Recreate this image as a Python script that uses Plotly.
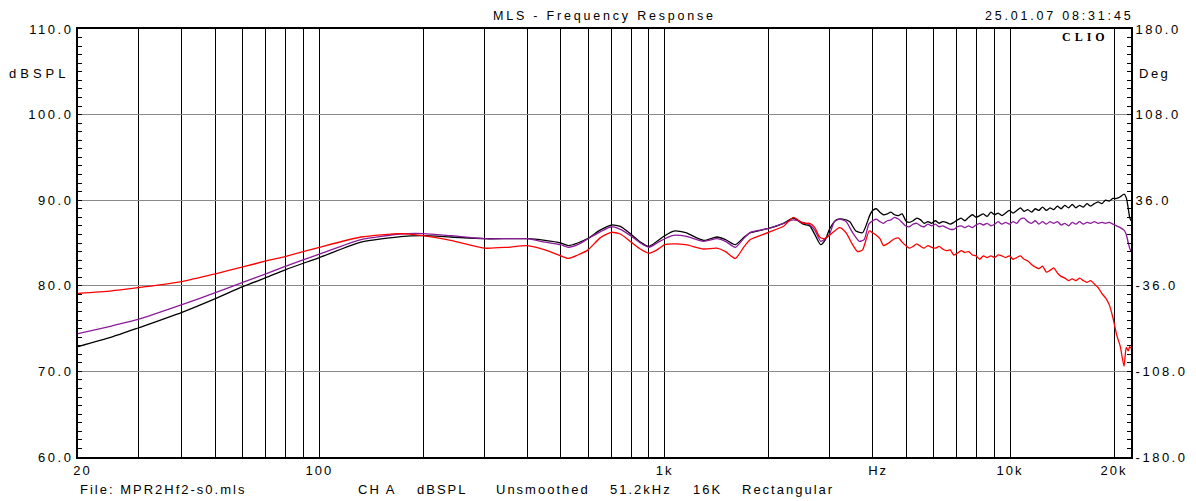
import plotly.graph_objects as go

# ---------------- data ----------------
hf_freq = [4000, 4100, 4200, 4300, 4410, 4520, 4630, 4750, 4870, 4990,
           5110, 5240, 5370, 5510, 5640, 5780, 5930, 6080, 6230, 6380,
           6540, 6710, 6870, 7040, 7220, 7400, 7590, 7780, 7970, 8170,
           8370, 8580, 8800, 9020, 9240, 9470, 9710, 9950, 10200, 10460,
           10720, 10980, 11260, 11540, 11830, 12120, 12420, 12740, 13050, 13380,
           13710, 14060, 14410, 14770, 15140, 15510, 15900, 16300, 16700, 17120,
           17550, 17990, 18440, 18900, 19370, 19850, 20350, 20860, 21380, 21700,
           22000, 22200, 22400]

lf_freq_black = [20, 25, 30, 40, 50, 60, 70, 80, 100, 132, 172, 200, 240, 300, 400, 450,
                 500, 526, 560, 600, 650, 700, 744, 800, 850, 900, 950, 1000, 1061, 1150,
                 1296, 1417, 1500, 1601, 1700, 1770, 2000, 2208, 2358, 2518, 2630, 2720,
                 2830, 2920, 3000, 3140, 3280, 3430, 3580, 3740, 3850, 3920]
lf_spl_black = [72.9, 74.0, 75.1, 76.9, 78.5, 79.9, 80.95, 81.9, 83.3, 85.1, 85.75, 85.85,
                85.7, 85.5, 85.5, 85.3, 85.0, 84.7, 85.0, 85.55, 86.5, 87.1, 86.95, 86.0,
                85.1, 84.6, 85.2, 85.85, 86.4, 86.2, 85.3, 85.7, 85.4, 84.8, 85.7, 86.2,
                86.7, 87.3, 87.9, 87.2, 87.0, 86.0, 84.8, 85.4, 86.6, 87.7, 87.8, 87.5,
                86.4, 86.2, 87.3, 88.2]
hf_spl_black = [88.8, 89.0, 88.6, 88.3, 88.4, 88.6, 88.3, 88.2, 88.4, 87.6,
                87.4, 87.6, 87.9, 87.7, 87.3, 87.5, 87.3, 87.6, 87.3, 87.5,
                87.4, 87.2, 87.4, 87.7, 87.9, 87.6, 88.0, 88.3, 88.0, 88.2,
                88.4, 88.1, 88.6, 88.3, 88.5, 88.2, 88.5, 88.8, 88.5, 88.8,
                89.1, 88.7, 88.9, 88.6, 89.0, 88.8, 89.2, 88.8, 89.1, 88.9,
                89.3, 89.0, 89.4, 89.1, 89.5, 89.1, 89.4, 89.2, 89.6, 89.3,
                89.6, 89.8, 89.6, 90.0, 89.9, 90.2, 90.2, 90.4, 90.7, 90.3,
                89.0, 88.0, 87.6]

lf_freq_purple = [20, 25, 30, 40, 50, 60, 70, 80, 100, 132, 172, 200, 240, 300, 400, 450,
                  500, 526, 560, 600, 650, 700, 744, 800, 850, 900, 950, 1000, 1061, 1150,
                  1296, 1417, 1500, 1601, 1700, 1770, 2000, 2208, 2358, 2518, 2630, 2720,
                  2830, 2920, 3000, 3100, 3210, 3350, 3500, 3660, 3780, 3900]
lf_spl_purple = [74.4, 75.3, 76.1, 77.8, 79.2, 80.4, 81.4, 82.3, 83.7, 85.4, 86.05, 86.1,
                 85.85, 85.5, 85.5, 85.1, 84.8, 84.5, 84.8, 85.5, 86.3, 86.9, 86.6, 85.8,
                 85.0, 84.5, 85.0, 85.5, 85.9, 85.8, 85.2, 85.5, 85.2, 84.5, 85.6, 86.25,
                 86.7, 87.3, 87.7, 87.4, 87.1, 86.5, 85.2, 85.5, 86.0, 87.5, 87.8, 87.5,
                 86.2, 85.2, 85.4, 87.2]
hf_spl_purple = [87.6, 87.8, 87.5, 87.3, 87.6, 87.7, 88.0, 87.8, 87.4, 87.0,
                 86.9, 87.2, 87.3, 87.0, 86.9, 87.2, 87.0, 87.2, 86.9, 87.0,
                 86.8, 86.6, 86.6, 86.9, 87.0, 86.8, 87.0, 86.8, 87.1, 87.3,
                 87.1, 87.3, 87.0, 87.2, 87.5, 87.2, 87.4, 87.2, 87.5, 87.3,
                 87.8, 87.9, 87.5, 87.3, 87.6, 87.2, 87.5, 87.2, 87.5, 87.3,
                 87.5, 87.1, 87.3, 87.0, 87.4, 87.2, 87.5, 87.2, 87.4, 87.3,
                 87.5, 87.3, 87.4, 87.3, 87.4, 87.2, 87.0, 86.8, 86.5, 86.0,
                 85.0, 84.4, 84.0]

lf_freq_red = [20, 25, 30, 40, 50, 60, 70, 80, 100, 132, 172, 200, 240, 300, 350, 400, 450,
               500, 526, 560, 600, 650, 700, 744, 800, 850, 900, 950, 1000, 1061, 1150,
               1296, 1417, 1500, 1601, 1700, 1770, 2000, 2208, 2358, 2518, 2630, 2720,
               2810, 2900, 3020, 3210, 3350, 3500, 3620, 3740, 3910]
lf_spl_red = [79.1, 79.4, 79.8, 80.5, 81.4, 82.2, 82.9, 83.45, 84.5, 85.7, 86.1, 85.85,
              85.3, 84.4, 84.5, 84.7, 84.2, 83.5, 83.2, 83.6, 84.2, 85.6, 86.25, 86.05,
              85.1, 84.3, 83.8, 84.2, 84.8, 84.9, 84.8, 84.3, 84.4, 84.0, 83.2, 84.6,
              85.4, 86.25, 86.95, 88.0, 87.3, 87.3, 86.8, 85.7, 85.5, 86.0, 86.8, 86.2,
              84.8, 84.0, 84.2, 86.4]
hf_spl_red = [86.2, 85.9, 85.5, 84.7, 84.9, 85.2, 85.5, 85.6, 85.1, 84.7,
              84.4, 84.6, 84.9, 84.6, 84.4, 84.7, 84.5, 84.4, 84.6, 84.3,
              84.1, 84.2, 83.6, 83.8, 84.1, 83.9, 84.0, 83.6, 83.5, 83.1,
              83.5, 83.3, 83.5, 83.3, 83.6, 83.5, 83.3, 83.5, 83.1, 83.3,
              83.5, 83.1, 82.9, 82.5, 82.2, 82.0, 82.3, 81.6, 81.8, 82.1,
              81.5, 81.1, 80.9, 80.6, 80.8, 80.6, 80.9, 80.6, 80.4, 80.6,
              80.2, 79.8, 79.1, 78.6, 77.8, 76.3, 74.3, 72.9, 70.6, 72.8,
              72.4, 72.9, 72.7]

grid_freqs = [20, 30, 40, 50, 60, 70, 80, 90, 100, 200, 300, 400, 500, 600, 700, 800, 900,
              1000, 2000, 3000, 4000, 5000, 6000, 7000, 8000, 9000, 10000, 20000]
label_freqs = [20.6, 100, 1000, 4150, 10000, 20000]
label_texts = ["20", "100", "1k", "Hz", "10k", "20k"]

spl_ticks = [60, 70, 80, 90, 100, 110]
spl_labels = ["60.0", "70.0", "80.0", "90.0", "100.0", "110.0"]
deg_ticks = [-180, -108, -36, 36, 108, 180]
deg_labels = ["-180.0", "-108.0", "-36.0", "36.0", "108.0", "180.0"]

freq_black = lf_freq_black + hf_freq
spl_black = lf_spl_black + hf_spl_black
freq_purple = lf_freq_purple + hf_freq
spl_purple = lf_spl_purple + hf_spl_purple
freq_red = lf_freq_red + hf_freq
spl_red = lf_spl_red + hf_spl_red

# ---------------- layout helpers (screen pixel coordinates) ----------------
SCREEN_W, SCREEN_H = 1196, 501
OFF = 8                      # default page body margin
W, H = SCREEN_W - OFF, SCREEN_H - OFF
PL, PR, PT, PB = 78, 1131, 29, 457   # plot area on screen


def px_x(p):
    return (p - PL) / (PR - PL)


def px_y(p):
    return (PB - p) / (PB - PT)


def sp(t, ls=2.5):
    return f'<span style="letter-spacing:{ls}px">{t}</span>'


FONT = "Liberation Sans, Arial, Helvetica, sans-serif"
FS = 13

fig = go.Figure()
for fx, sy, col in [(freq_black, spl_black, "#000000"),
                    (freq_purple, spl_purple, "#8B1A9A"),
                    (freq_red, spl_red, "#FF0000")]:
    fig.add_trace(go.Scatter(x=fx, y=sy, mode="lines",
                             line=dict(color=col, width=1.3, shape="spline", smoothing=0.6),
                             showlegend=False, hoverinfo="skip"))
# dummy trace so the phase axis is drawn
fig.add_trace(go.Scatter(x=[20], y=[0], yaxis="y2", mode="lines",
                         showlegend=False, hoverinfo="skip"))

fig.update_layout(
    width=W, height=H,
    margin=dict(l=PL - OFF, r=SCREEN_W - PR, t=PT - OFF, b=SCREEN_H - PB, autoexpand=False),
    paper_bgcolor="white", plot_bgcolor="white",
    font=dict(family=FONT, size=FS, color="black"),
    xaxis=dict(type="log", range=[1.30103, 4.35025],
               tickmode="array", tickvals=label_freqs,
               ticktext=[sp(t, 2) for t in label_texts],
               tickangle=0, automargin=False,
               showgrid=False,
               showline=True, linecolor="black", linewidth=2, mirror=True,
               ticks="", zeroline=False, tickfont=dict(size=FS),
               minor=dict(tickmode="array", tickvals=grid_freqs, showgrid=True,
                          gridcolor="black", gridwidth=1, ticks="")),
    yaxis=dict(range=[60, 110], tickmode="array", tickvals=spl_ticks,
               ticktext=[sp(t) for t in spl_labels], automargin=False,
               showgrid=True, gridcolor="#8a8a8a", gridwidth=1,
               showline=True, linecolor="black", linewidth=2, mirror=True,
               ticks="inside", ticklen=4, tickcolor="black", zeroline=False,
               minor=dict(tickmode="linear", tick0=60, dtick=1, ticks="inside",
                          ticklen=4, tickcolor="black", showgrid=False)),
    yaxis2=dict(range=[-180, 180], overlaying="y", side="right",
                tickmode="array", tickvals=deg_ticks, automargin=False,
                ticktext=[sp(t) for t in deg_labels],
                showgrid=False, zeroline=False,
                showline=True, linecolor="black", linewidth=2,
                ticks="inside", ticklen=4, tickcolor="black",
                minor=dict(tickmode="linear", tick0=-180, dtick=7.2, ticks="inside",
                           ticklen=4, tickcolor="black", showgrid=False)),
)

HEAD_FONT = dict(family=FONT, size=12.5, color="black")
ann = [
    dict(text=sp("MLS - Frequency Response", 2.8), x=px_x(604), y=px_y(OFF),
         xanchor="center", yanchor="top", borderpad=0, font=HEAD_FONT),
    dict(text=sp("25.01.07 08:31:45", 2.8), x=px_x(1134), y=px_y(OFF),
         xanchor="right", yanchor="top", borderpad=0, font=HEAD_FONT),
    dict(text=sp("<b>CLIO</b>", 4), x=px_x(1111), y=px_y(37.5),
         xanchor="right", yanchor="middle",
         font=dict(family="Liberation Serif, Times New Roman, serif", size=12, color="black")),
    dict(text=sp("dBSPL", 4), x=px_x(71), y=px_y(73), xanchor="right", yanchor="middle"),
    dict(text=sp("Deg", 2.5), x=px_x(1137), y=px_y(73), xanchor="left", yanchor="middle"),
    dict(text=sp("File: MPR2Hf2-s0.mls", 2), x=px_x(78), y=px_y(489),
         xanchor="left", yanchor="middle"),
]
for txt, left in [("CH A", 356), ("dBSPL", 415), ("Unsmoothed", 494),
                  ("51.2kHz", 608), ("16K", 691), ("Rectangular", 740)]:
    ann.append(dict(text=sp(txt, 2), x=px_x(left), y=px_y(489),
                    xanchor="left", yanchor="middle"))
for a in ann:
    a.update(xref="paper", yref="paper", showarrow=False)
    a.setdefault("font", dict(family=FONT, size=FS, color="black"))
fig.update_layout(annotations=ann)

fig.write_html("out.html")
